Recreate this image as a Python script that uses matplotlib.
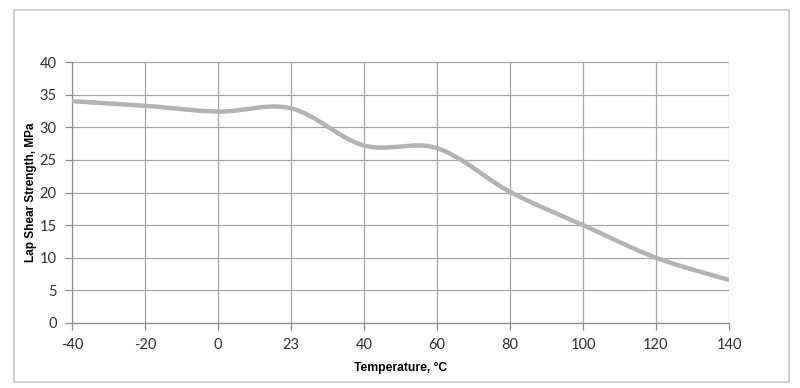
import numpy as np
import matplotlib
matplotlib.use("Agg")
import matplotlib.pyplot as plt
from matplotlib.patches import Rectangle

temps = ["-40", "-20", "0", "23", "40", "60", "80", "100", "120", "140"]
strength = [34.0, 33.3, 32.4, 32.9, 27.2, 26.8, 20.1, 15.0, 10.0, 6.6]


def smooth(xs, ys, n=40):
    # Excel-style smoothed line (Catmull-Rom as cubic Bezier segments)
    xs = np.asarray(xs, float)
    ys = np.asarray(ys, float)
    px = np.concatenate([[xs[0]], xs, [xs[-1]]])
    py = np.concatenate([[ys[0]], ys, [ys[-1]]])
    outx, outy = [], []
    t = np.linspace(0, 1, n)
    for i in range(1, len(px) - 2):
        p0x, p3x = px[i], px[i + 1]
        p0y, p3y = py[i], py[i + 1]
        c1x = p0x + (px[i + 1] - px[i - 1]) / 6
        c1y = p0y + (py[i + 1] - py[i - 1]) / 6
        c2x = p3x - (px[i + 2] - px[i]) / 6
        c2y = p3y - (py[i + 2] - py[i]) / 6
        bx = (1 - t) ** 3 * p0x + 3 * (1 - t) ** 2 * t * c1x + 3 * (1 - t) * t ** 2 * c2x + t ** 3 * p3x
        by = (1 - t) ** 3 * p0y + 3 * (1 - t) ** 2 * t * c1y + 3 * (1 - t) * t ** 2 * c2y + t ** 3 * p3y
        outx.extend(bx)
        outy.extend(by)
    return np.array(outx), np.array(outy)


fig = plt.figure(figsize=(8, 3.88), dpi=100)
fig.patches.append(Rectangle((14 / 800, 6 / 388), 775 / 800, 372 / 388,
                             transform=fig.transFigure, fill=False,
                             edgecolor="#c8c8c8", linewidth=1.2))
ax = fig.add_axes([72 / 800, 65 / 388, 657 / 800, 261 / 388])

idx = np.arange(len(temps))
sx, sy = smooth(idx, strength)
ax.plot(sx, sy, color="#b3b3b3", linewidth=3.2, solid_capstyle="butt", zorder=3)

ax.set_xlim(0, len(temps) - 1)
ax.set_ylim(0, 40)
ax.set_xticks(idx)
ax.set_xticklabels(temps)
ax.set_yticks(range(0, 41, 5))
ax.grid(True, color="#a6a6a6", linewidth=0.9)
ax.set_axisbelow(True)
for side in ["top", "right"]:
    ax.spines[side].set_visible(False)
for side in ["left", "bottom"]:
    ax.spines[side].set_color("#8c8c8c")
    ax.spines[side].set_linewidth(0.9)
ax.tick_params(axis="both", colors="#8c8c8c", length=5, width=0.9,
               labelsize=10.5, labelcolor="#303030", pad=6)
for lab in ax.get_xticklabels() + ax.get_yticklabels():
    lab.set_family("Lato")

ax.set_xlabel("Temperature, °C", fontsize=8.7, fontweight="bold",
              family="Liberation Sans", labelpad=7)
ax.set_ylabel("Lap Shear Strength, MPa", fontsize=8.5, fontweight="bold",
              family="Liberation Sans", labelpad=2)

fig.savefig("out.png", dpi=100)
